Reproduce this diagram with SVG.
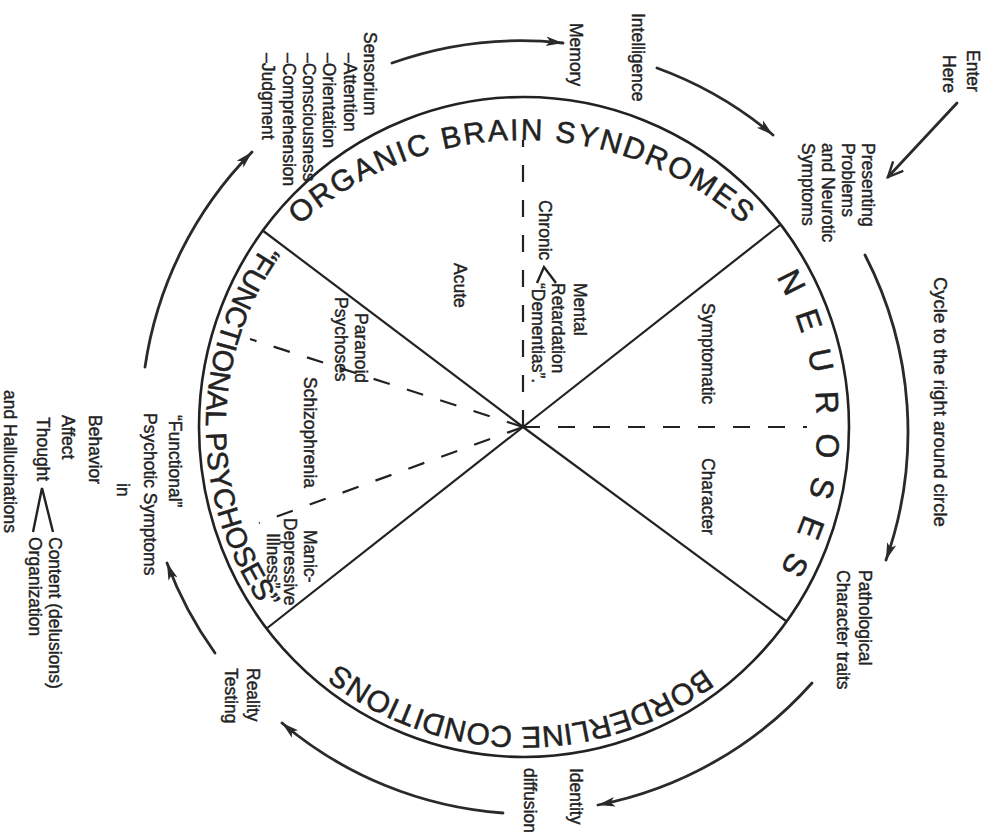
<svg xmlns="http://www.w3.org/2000/svg" width="997" height="839" viewBox="0 0 997 839">
<defs>
<style>
.lbl{font-family:"Liberation Sans",Arial,sans-serif;font-size:17.5px;fill:#222;stroke:#222;stroke-width:0.4}
.big{font-family:"Liberation Sans",Arial,sans-serif;font-size:30px;fill:#222;stroke:#222;stroke-width:0.5}
.arc{fill:none;stroke:#2a2a2a;stroke-width:2.8;stroke-linecap:round}
.div{fill:none;stroke:#222;stroke-width:2.2}
.dash{fill:none;stroke:#222;stroke-width:2.2;stroke-dasharray:17 18}
</style>
<marker id="ah" markerUnits="userSpaceOnUse" markerWidth="20" markerHeight="12" refX="17" refY="6" orient="auto">
<path d="M0,1.2 L17,6 L0,10.8 L4,6 Z" fill="#2a2a2a"/>
</marker>
<marker id="av" markerUnits="userSpaceOnUse" markerWidth="20" markerHeight="16" refX="17" refY="8" orient="auto">
<path d="M2,1 L17,8 L2,15" fill="none" stroke="#2a2a2a" stroke-width="2.4"/>
</marker>
<path id="pTop" d="M189,473 A333,333 0 0 1 855,473"/>
<path id="pRight" d="M524,134 A293,293 0 0 1 524,720"/>
<path id="pBottom" d="M827,424 A303,303 0 0 1 221,424"/>
<path id="pLeft" d="M524,109 A318,318 0 0 0 524,745"/>
</defs>
<rect width="997" height="839" fill="#fff"/>

<g id="wheel">
<ellipse cx="524" cy="427" rx="325" ry="330" fill="none" stroke="#222" stroke-width="2.6"/>
<line class="div" x1="523" y1="427" x2="780" y2="225"/>
<line class="div" x1="523" y1="427" x2="786" y2="621"/>
<line class="div" x1="523" y1="427" x2="262" y2="230"/>
<line class="div" x1="523" y1="427" x2="266" y2="629"/>
<line class="dash" x1="523" y1="427" x2="523" y2="140"/>
<line class="dash" x1="523" y1="427" x2="807" y2="427"/>
<line class="dash" x1="523" y1="427" x2="250" y2="339"/>
<line class="dash" x1="523" y1="427" x2="259" y2="523"/>
</g>

<g id="organic">
<text class="big"><textPath href="#pTop" startOffset="50%" text-anchor="middle" letter-spacing="2">ORGANIC BRAIN SYNDROMES</textPath></text>
<text class="lbl" transform="translate(574,283) rotate(90)">Mental</text>
<text class="lbl" transform="translate(552,283) rotate(90)">Retardation</text>
<text class="lbl" transform="translate(532,283) rotate(90)">“Dementias”.</text>
<text class="lbl" transform="translate(539,200) rotate(90)">Chronic</text>
<path d="M537,283 L544,267 L556,283" fill="none" stroke="#222" stroke-width="2.4"/>
<text class="lbl" transform="translate(454,263) rotate(90)">Acute</text>
</g>

<g id="neuroses">
<text class="big" style="font-size:32px"><textPath href="#pRight" startOffset="50.5%" text-anchor="middle" letter-spacing="18">NEUROSES</textPath></text>
<text class="lbl" transform="translate(702,303) rotate(90)">Symptomatic</text>
<text class="lbl" transform="translate(702,458) rotate(90)">Character</text>
</g>

<g id="borderline">
<text class="big"><textPath href="#pBottom" startOffset="50.4%" text-anchor="middle">BORDERLINE CONDITIONS</textPath></text>
</g>

<g id="functional">
<text class="big" style="font-size:29px"><textPath href="#pLeft" startOffset="50%" text-anchor="middle">“FUNCTIONAL PSYCHOSES”</textPath></text>
<text class="lbl" transform="translate(355,313) rotate(90)">Paranoid</text>
<text class="lbl" transform="translate(335,297) rotate(90)">Psychoses</text>
<text class="lbl" transform="translate(304,377) rotate(90)">Schizophrenia</text>
<text class="lbl" transform="translate(304,530) rotate(90)">Manic-</text>
<text class="lbl" transform="translate(284,518) rotate(90)">Depressive</text>
<text class="lbl" transform="translate(267,533) rotate(90)">Illness”</text>
</g>

<g id="enter">
<text class="lbl" transform="translate(967,50) rotate(90)">Enter</text>
<text class="lbl" transform="translate(943,55) rotate(90)">Here</text>
</g>
<g id="presenting">
<text class="lbl" transform="translate(862,143) rotate(90)">Presenting</text>
<text class="lbl" transform="translate(842,143) rotate(90)">Problems</text>
<text class="lbl" transform="translate(822,143) rotate(90)">and Neurotic</text>
<text class="lbl" transform="translate(802,143) rotate(90)">Symptoms</text>
</g>
<g id="cycle">
<text class="lbl" style="font-size:18.5px" transform="translate(934,277) rotate(90)">Cycle to the right around circle</text>
</g>
<g id="pathological">
<text class="lbl" transform="translate(859,570) rotate(90)">Pathological</text>
<text class="lbl" transform="translate(837,570) rotate(90)">Character traits</text>
</g>
<g id="identity">
<text class="lbl" transform="translate(570,768) rotate(90)">Identity</text>
<text class="lbl" transform="translate(524,768) rotate(90)">diffusion</text>
</g>
<g id="reality">
<text class="lbl" transform="translate(247,668) rotate(90)">Reality</text>
<text class="lbl" transform="translate(225,668) rotate(90)">Testing</text>
</g>
<g id="psychotic">
<text class="lbl" transform="translate(169,415) rotate(90)">“Functional”</text>
<text class="lbl" transform="translate(144,413) rotate(90)">Psychotic Symptoms</text>
<text class="lbl" transform="translate(117,483) rotate(90)">in</text>
<text class="lbl" transform="translate(89,415) rotate(90)">Behavior</text>
<text class="lbl" transform="translate(62,415) rotate(90)">Affect</text>
<text class="lbl" transform="translate(37,417) rotate(90)">Thought</text>
<path d="M33,532 L42,488 L53,532" fill="none" stroke="#222" stroke-width="2.4"/>
<text class="lbl" transform="translate(49,537) rotate(90)">Content (delusions)</text>
<text class="lbl" transform="translate(29,537) rotate(90)">Organization</text>
<text class="lbl" transform="translate(4,390) rotate(90)">and Hallucinations</text>
</g>
<g id="sensorium">
<text class="lbl" transform="translate(364,32) rotate(90)">Sensorium</text>
<text class="lbl" transform="translate(344,53) rotate(90)">–Attention</text>
<text class="lbl" transform="translate(323,53) rotate(90)">–Orientation</text>
<text class="lbl" transform="translate(303,53) rotate(90)">–Consciousness</text>
<text class="lbl" transform="translate(283,53) rotate(90)">–Comprehension</text>
<text class="lbl" transform="translate(262,53) rotate(90)">–Judgment</text>
</g>
<g id="memory">
<text class="lbl" transform="translate(570,23) rotate(90)">Memory</text>
</g>
<g id="intelligence">
<text class="lbl" transform="translate(632,13) rotate(90)">Intelligence</text>
</g>

<g id="connectors">
<path class="arc" d="M957,103 L888,177" marker-end="url(#av)"/>
<path class="arc" d="M657,68 A385,385 0 0 1 773,135" marker-end="url(#ah)"/>
<path class="arc" d="M392,63 A385,385 0 0 1 563,43" marker-end="url(#ah)"/>
<path class="arc" d="M865,255 A385,385 0 0 1 886,560" marker-end="url(#ah)"/>
<path class="arc" d="M812,683 A385,385 0 0 1 598,805" marker-end="url(#ah)"/>
<path class="arc" d="M503,813 A385,385 0 0 1 282,723" marker-end="url(#ah)"/>
<path class="arc" d="M215,653 A385,385 0 0 1 167,563" marker-end="url(#ah)"/>
<path class="arc" d="M145,367 A385,385 0 0 1 252,152" marker-end="url(#ah)"/>
</g>
</svg>
